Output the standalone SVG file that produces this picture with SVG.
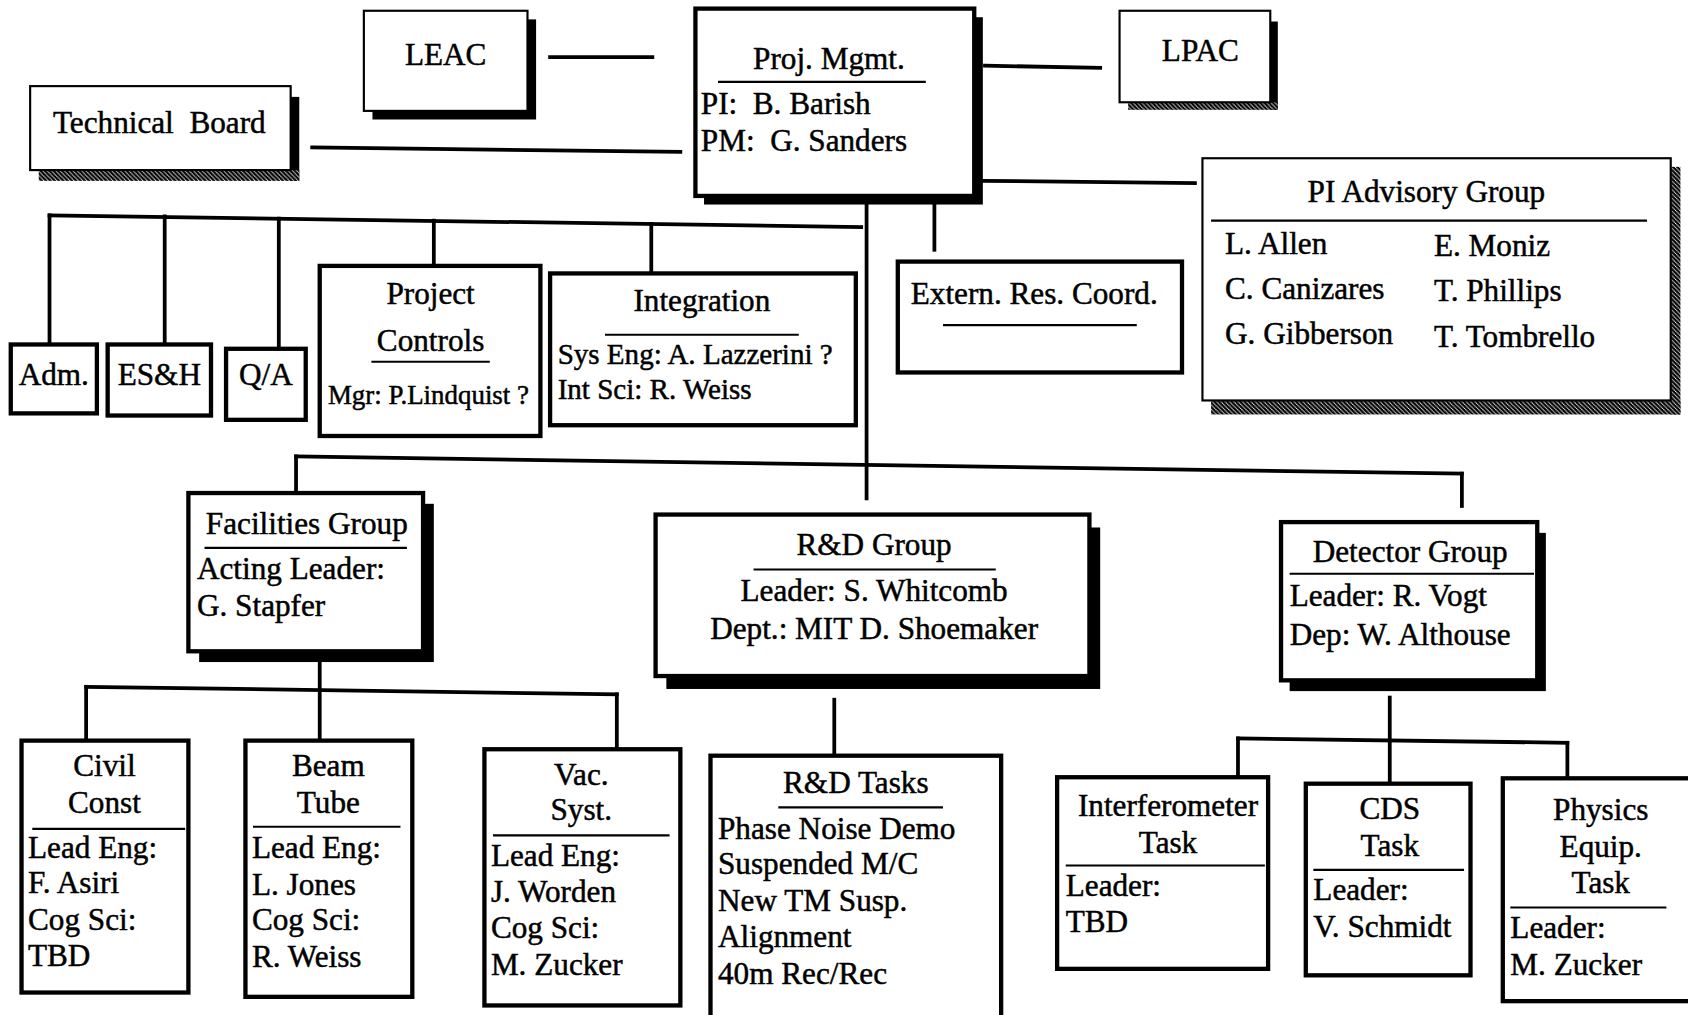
<svg xmlns="http://www.w3.org/2000/svg" width="1688" height="1015" viewBox="0 0 1688 1015">
<defs>
<pattern id="dither" width="4" height="4" patternUnits="userSpaceOnUse">
<rect width="4" height="4" fill="#000"/>
<rect x="1" y="0" width="1" height="1" fill="#fff"/>
<rect x="3" y="2" width="1" height="1" fill="#fff"/>
<rect x="0" y="3" width="1" height="1" fill="#fff"/>
<rect x="2" y="1" width="1" height="1" fill="#fff"/>
</pattern>
</defs>
<style>
.b{fill:#fff;stroke:#000;stroke-width:4}
.t{fill:#fff;stroke:#000;stroke-width:2}
.sh{fill:#000}
.dz{fill:url(#dither)}
.c{stroke:#000;stroke-width:3.5;fill:none;stroke-linecap:square}
.u{stroke:#000;stroke-width:2}
text{font-family:"Liberation Serif","Times New Roman",serif;font-size:29px;fill:#000;stroke:#000;stroke-width:0.45}
.m{text-anchor:middle}
.s25{font-size:25px}
.s27{font-size:27px}
</style>
<rect width="1688" height="1015" fill="#fff"/>
<g transform="scale(1.0765)">
<g id="connectors">
<line class="c" x1="511" y1="53" x2="606" y2="53"/>
<line class="c" x1="915" y1="61" x2="1022" y2="63"/>
<line class="c" x1="290" y1="137" x2="632" y2="141"/>
<line class="c" x1="912" y1="168" x2="1110" y2="170"/>
<line class="c" x1="46" y1="200" x2="800" y2="211"/>
<line class="c" x1="46" y1="200" x2="46" y2="318"/>
<line class="c" x1="153" y1="201" x2="153" y2="320"/>
<line class="c" x1="259" y1="203" x2="259" y2="323"/>
<line class="c" x1="403" y1="205" x2="403" y2="246"/>
<line class="c" x1="605" y1="208" x2="605" y2="252"/>
<line class="c" x1="805" y1="190" x2="805" y2="463"/>
<line class="c" x1="868" y1="190" x2="868" y2="232"/>
<line class="c" x1="275" y1="424" x2="1358" y2="440"/>
<line class="c" x1="275" y1="424" x2="275" y2="455"/>
<line class="c" x1="1358" y1="440" x2="1358" y2="470"/>
<line class="c" x1="297" y1="616" x2="297" y2="688"/>
<line class="c" x1="80" y1="638" x2="573" y2="645"/>
<line class="c" x1="80" y1="638" x2="80" y2="688"/>
<line class="c" x1="573" y1="645" x2="573" y2="696"/>
<line class="c" x1="775" y1="650" x2="775" y2="700"/>
<line class="c" x1="1291" y1="648" x2="1291" y2="727"/>
<line class="c" x1="1150" y1="686" x2="1456" y2="690"/>
<line class="c" x1="1150" y1="686" x2="1150" y2="720"/>
<line class="c" x1="1456" y1="690" x2="1456" y2="722"/>
</g>

<g id="leac">
<rect class="sh" x="346" y="18" width="152" height="93"/>
<rect class="t" x="338" y="10" width="152" height="93"/>
<text class="m" x="414" y="60">LEAC</text>
</g>

<g id="technical-board">
<rect class="sh" x="270" y="90" width="8" height="78"/>
<rect class="dz" x="36" y="158" width="242" height="10"/>
<rect class="t" x="28" y="80" width="242" height="78"/>
<text class="m" x="148" y="124">Technical&#160; Board</text>
</g>

<g id="proj-mgmt">
<rect class="sh" x="654" y="16" width="259" height="174"/>
<rect class="b" x="646" y="8" width="259" height="174"/>
<text class="m" x="770" y="64">Proj. Mgmt.</text>
<line class="u" x1="667" y1="76" x2="860" y2="76"/>
<text x="651" y="106">PI:&#160; B. Barish</text>
<text x="651" y="140">PM:&#160; G. Sanders</text>
</g>

<g id="lpac">
<rect class="sh" x="1180" y="20" width="7" height="82"/>
<rect class="dz" x="1048" y="95" width="139" height="7"/>
<rect class="t" x="1040" y="10" width="140" height="85"/>
<text class="m" x="1115" y="57">LPAC</text>
</g>

<g id="pi-advisory">
<rect class="dz" x="1552" y="155" width="9" height="230"/>
<rect class="dz" x="1125" y="372" width="436" height="13"/>
<rect class="t" x="1117" y="147" width="435" height="225"/>
<text class="m" x="1325" y="188">PI Advisory Group</text>
<line class="u" x1="1125" y1="205" x2="1530" y2="205"/>
<text x="1138" y="236">L. Allen</text>
<text x="1138" y="278">C. Canizares</text>
<text x="1138" y="320">G. Gibberson</text>
<text x="1332" y="238">E. Moniz</text>
<text x="1332" y="280">T. Phillips</text>
<text x="1332" y="322">T. Tombrello</text>
</g>

<g id="adm">
<rect class="b" x="10" y="320" width="80" height="64"/>
<text class="m" x="50" y="358">Adm.</text>
</g>
<g id="esh">
<rect class="b" x="100" y="320" width="96" height="66"/>
<text class="m" x="148" y="358">ES&amp;H</text>
</g>
<g id="qa">
<rect class="b" x="210" y="324" width="74" height="66"/>
<text class="m" x="247" y="358">Q/A</text>
</g>

<g id="project-controls">
<rect class="b" x="297" y="247" width="205" height="158"/>
<text class="m" x="400" y="282">Project</text>
<text class="m" x="400" y="326">Controls</text>
<line class="u" x1="345" y1="336" x2="455" y2="336"/>
<text class="m s25" x="398" y="375">Mgr: P.Lindquist ?</text>
</g>

<g id="integration">
<rect class="b" x="511" y="254" width="284" height="141"/>
<text class="m" x="652" y="289">Integration</text>
<line class="u" x1="562" y1="311" x2="742" y2="311"/>
<text class="s27" x="518" y="338">Sys Eng: A. Lazzerini ?</text>
<text class="s27" x="518" y="371">Int Sci: R. Weiss</text>
</g>

<g id="extern">
<rect class="b" x="834" y="243" width="264" height="103"/>
<text x="846" y="282">Extern. Res. Coord.</text>
<line class="u" x1="876" y1="302" x2="1056" y2="302"/>
</g>

<g id="facilities">
<rect class="sh" x="185" y="468" width="218" height="147"/>
<rect class="b" x="175" y="458" width="218" height="147"/>
<text class="m" x="285" y="496">Facilities Group</text>
<line class="u" x1="190" y1="509" x2="378" y2="509"/>
<text x="183" y="538">Acting Leader:</text>
<text x="183" y="572">G. Stapfer</text>
</g>

<g id="rd-group">
<rect class="sh" x="619" y="490" width="403" height="150"/>
<rect class="b" x="609" y="478" width="403" height="150"/>
<text class="m" x="812" y="516">R&amp;D Group</text>
<line class="u" x1="700" y1="529" x2="925" y2="529"/>
<text class="m" x="812" y="558">Leader: S. Whitcomb</text>
<text class="m" x="812" y="594">Dept.: MIT D. Shoemaker</text>
</g>

<g id="detector">
<rect class="sh" x="1198" y="495" width="238" height="147"/>
<rect class="b" x="1190" y="485" width="238" height="147"/>
<text class="m" x="1310" y="522">Detector Group</text>
<line class="u" x1="1198" y1="533" x2="1425" y2="533"/>
<text x="1198" y="563">Leader: R. Vogt</text>
<text x="1198" y="599">Dep: W. Althouse</text>
</g>

<g id="civil">
<rect class="b" x="20" y="688" width="155" height="234"/>
<text class="m" x="97" y="721">Civil</text>
<text class="m" x="97" y="755">Const</text>
<line class="u" x1="30" y1="770" x2="172" y2="770"/>
<text x="26" y="797">Lead Eng:</text>
<text x="26" y="830">F. Asiri</text>
<text x="26" y="864">Cog Sci:</text>
<text x="26" y="897">TBD</text>
</g>

<g id="beam">
<rect class="b" x="228" y="688" width="155" height="238"/>
<text class="m" x="305" y="721">Beam</text>
<text class="m" x="305" y="755">Tube</text>
<line class="u" x1="235" y1="768" x2="372" y2="768"/>
<text x="234" y="797">Lead Eng:</text>
<text x="234" y="831">L. Jones</text>
<text x="234" y="864">Cog Sci:</text>
<text x="234" y="898">R. Weiss</text>
</g>

<g id="vac">
<rect class="b" x="450" y="696" width="182" height="238"/>
<text class="m" x="540" y="729">Vac.</text>
<text class="m" x="540" y="762">Syst.</text>
<line class="u" x1="458" y1="776" x2="622" y2="776"/>
<text x="456" y="804">Lead Eng:</text>
<text x="456" y="838">J. Worden</text>
<text x="456" y="871">Cog Sci:</text>
<text x="456" y="906">M. Zucker</text>
</g>

<g id="rd-tasks">
<rect class="b" x="660" y="702" width="270" height="250"/>
<text class="m" x="795" y="737">R&amp;D Tasks</text>
<line class="u" x1="723" y1="750" x2="876" y2="750"/>
<text x="667" y="779">Phase Noise Demo</text>
<text x="667" y="812">Suspended M/C</text>
<text x="667" y="846">New TM Susp.</text>
<text x="667" y="880">Alignment</text>
<text x="667" y="914">40m Rec/Rec</text>
</g>

<g id="interferometer">
<rect class="b" x="982" y="722" width="196" height="178"/>
<text class="m" x="1085" y="758">Interferometer</text>
<text class="m" x="1085" y="792">Task</text>
<line class="u" x1="990" y1="804" x2="1175" y2="804"/>
<text x="990" y="832">Leader:</text>
<text x="990" y="866">TBD</text>
</g>

<g id="cds">
<rect class="b" x="1213" y="728" width="153" height="178"/>
<text class="m" x="1291" y="761">CDS</text>
<text class="m" x="1291" y="795">Task</text>
<line class="u" x1="1220" y1="808" x2="1360" y2="808"/>
<text x="1220" y="836">Leader:</text>
<text x="1220" y="870">V. Schmidt</text>
</g>

<g id="physics">
<rect class="b" x="1396" y="723" width="180" height="207"/>
<text class="m" x="1487" y="762">Physics</text>
<text class="m" x="1487" y="796">Equip.</text>
<text class="m" x="1487" y="830">Task</text>
<line class="u" x1="1403" y1="843" x2="1548" y2="843"/>
<text x="1403" y="871">Leader:</text>
<text x="1403" y="906">M. Zucker</text>
</g>
</g>
</svg>
